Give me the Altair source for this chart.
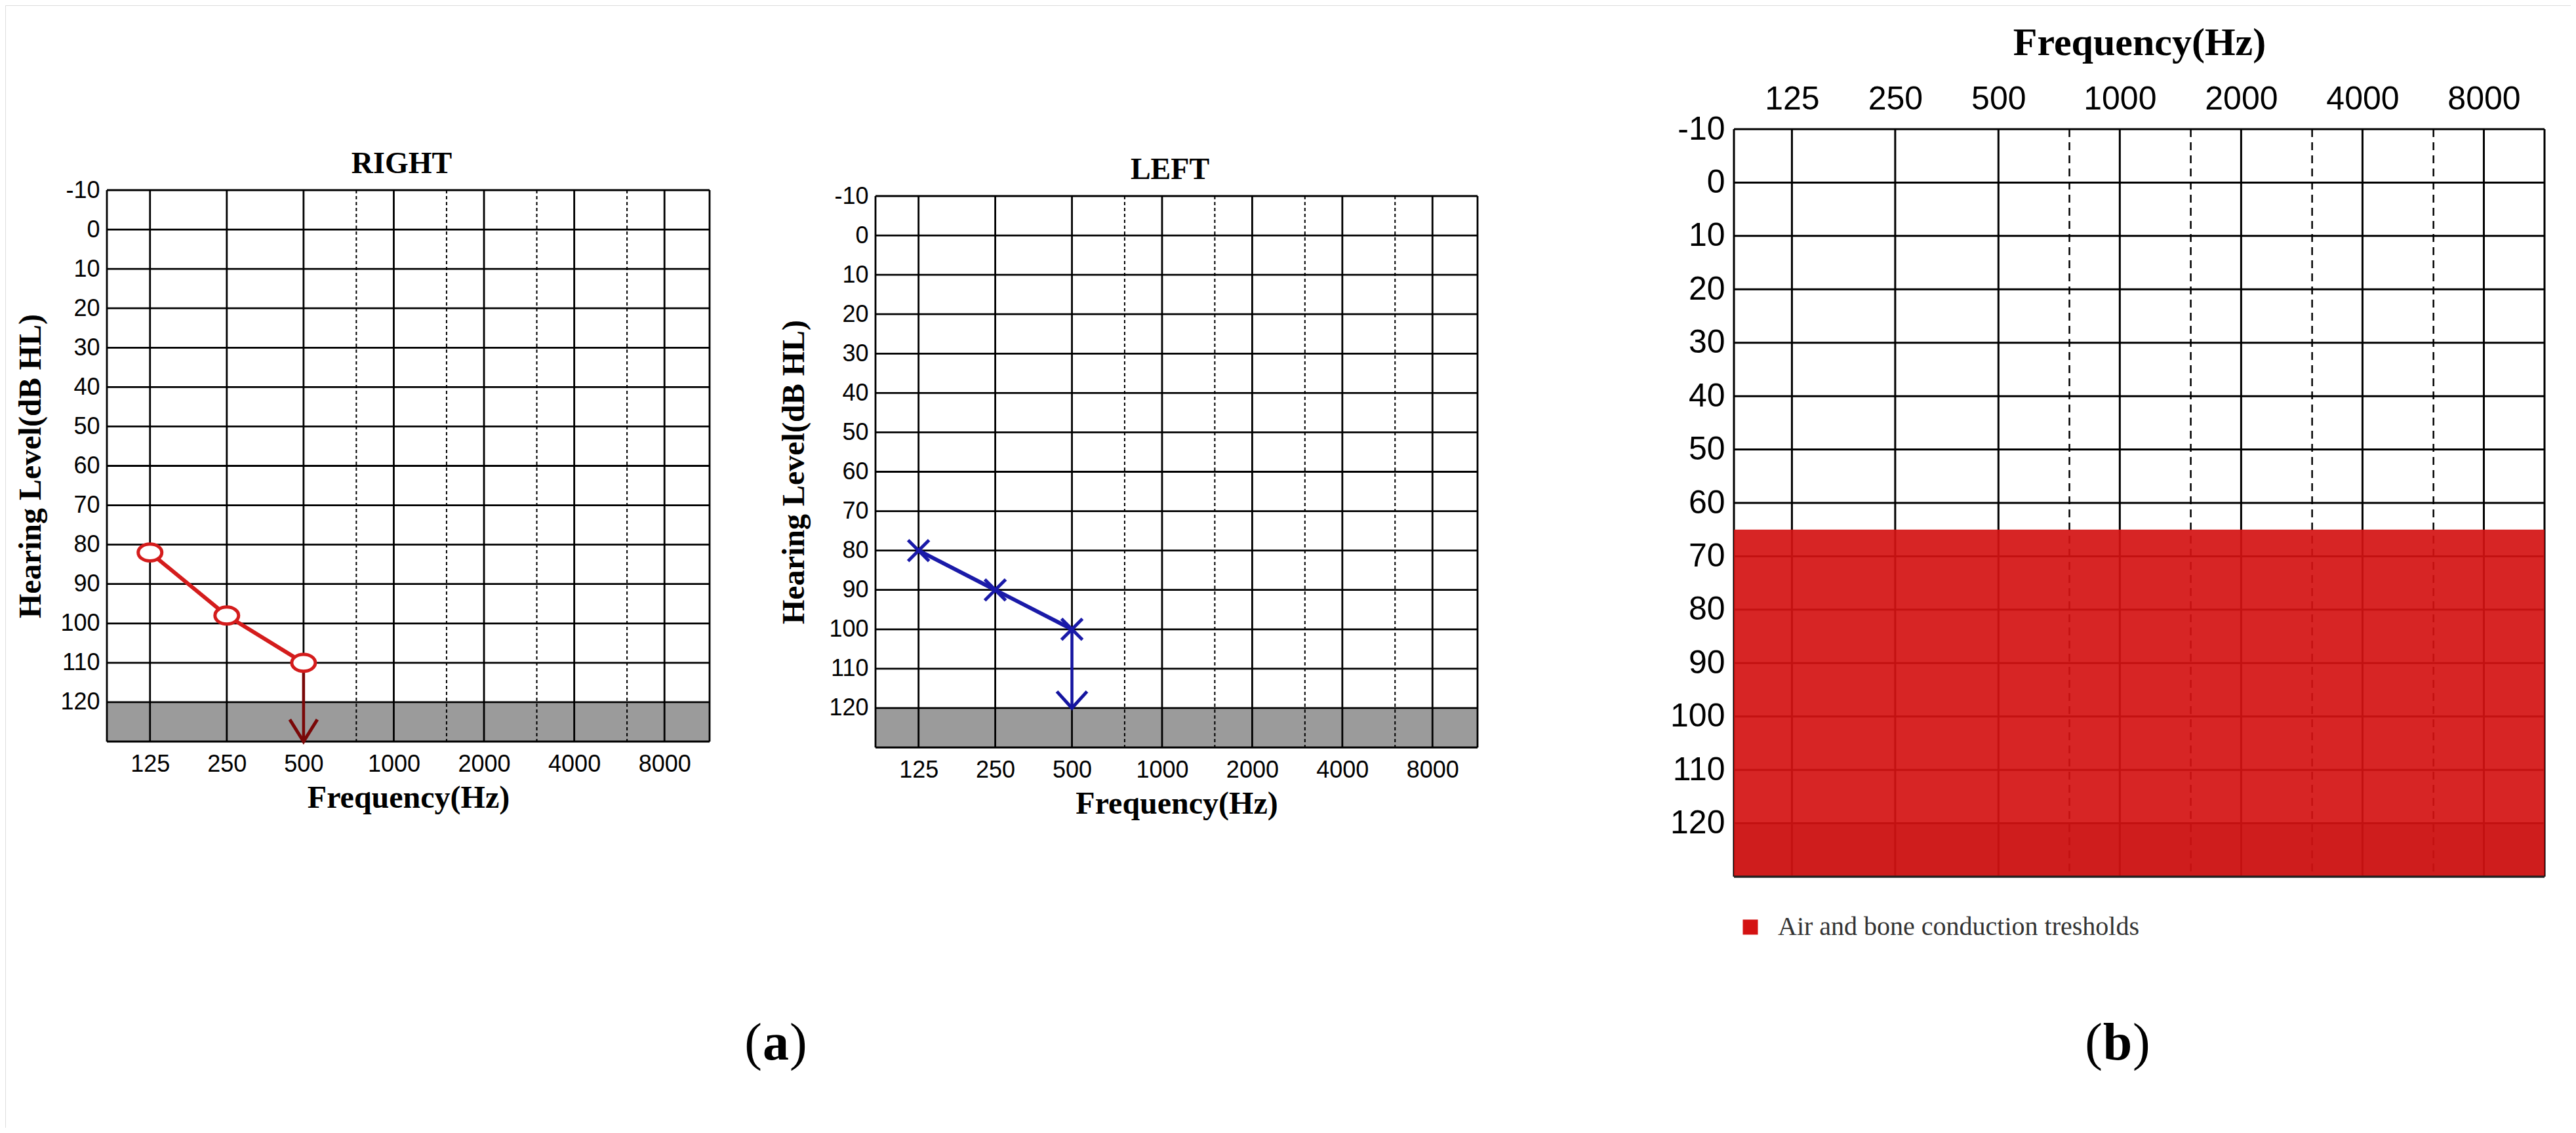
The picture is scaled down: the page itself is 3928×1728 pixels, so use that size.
import altair as alt
import pandas as pd

# ---------------- data ----------------
FREQ_MAIN = [125, 250, 500, 1000, 2000, 4000, 8000]
FREQ_MID = [750, 1500, 3000, 6000]
DB_GRID = [-10, 0, 10, 20, 30, 40, 50, 60, 70, 80, 90, 100, 110, 120, 130]
DB_TICKS = [-10, 0, 10, 20, 30, 40, 50, 60, 70, 80, 90, 100, 110, 120]
X_EDGES = [84.7, 11314]   # frequencies at the left / right frame of the audiogram
X_BREAK = 500             # octave spacing changes here (narrower low octaves)

RIGHT_FREQ = [125, 250, 500]
RIGHT_DB = [82, 98, 110]
RIGHT_NR_FREQ = [500]
RIGHT_NR_FROM = [110]
RIGHT_NR_TO = [130]

LEFT_FREQ = [125, 250, 500]
LEFT_DB = [80, 90, 100]
LEFT_NR_FREQ = [500]
LEFT_NR_FROM = [100]
LEFT_NR_TO = [120]

BAND_DB = [120, 130]
B_LABELS = ["Air and bone conduction tresholds"]
B_FROM = [65]
B_TO = [130]

PANEL_TITLES = ["RIGHT", "LEFT"]
CAPTIONS = ["(a)", "(b)"]

# ---------------- layout / style ----------------
VW, VH = 3912, 1712
SPLIT = 0.3263
GEOM = {
    "R": dict(L=155, W=919, T=282, B=1123),
    "L": dict(L=1327, W=918, T=291, B=1132),
    "B": dict(L=2636, W=1236, T=189, B=1329),
}
SANS = "Liberation Sans, Arial, sans-serif"
SERIF = "Liberation Serif, Times New Roman, serif"
GRAY = "#9b9b9b"
ELLIPSE = "M -1 0 A 1 0.72 0 1 1 1 0 A 1 0.72 0 1 1 -1 0 Z"
XMARK = "M -1 -1 L 1 1 M -1 1 L 1 -1"
CHEV_R = "M -1 -1.6 L 0 0 L 1 -1.6"
CHEV_L = "M -1 -1.1 L 0 0 L 1 -1.1"


def scales(g):
    xs = alt.Scale(type="log", domain=[X_EDGES[0], X_BREAK, X_EDGES[1]],
                   range=[g["L"], g["L"] + SPLIT * g["W"], g["L"] + g["W"]], nice=False)
    ys = alt.Scale(type="linear", domain=[DB_GRID[0], DB_GRID[-1]],
                   range=[g["T"], g["B"]], nice=False, zero=False)
    return xs, ys


def grid(xs, ys, xa, ya, lw, dash, dlw):
    XL = alt.XDatum(X_EDGES[0], type="quantitative", scale=xs, axis=xa)
    X2R = alt.X2Datum(X_EDGES[1])
    YT = alt.YDatum(DB_GRID[0], type="quantitative", scale=ys, axis=ya)
    Y2B = alt.Y2Datum(DB_GRID[-1])
    band = alt.Chart(pd.DataFrame({"d0": [BAND_DB[0]], "d1": [BAND_DB[1]]})).mark_rect(
        color=GRAY, opacity=1).encode(
        x=XL, x2=X2R, y=alt.Y("d0:Q", scale=ys, axis=ya), y2=alt.Y2("d1"))
    hgrid = alt.Chart(pd.DataFrame({"d": DB_GRID})).mark_rule(color="black", strokeWidth=lw).encode(
        x=XL, x2=X2R, y=alt.Y("d:Q", scale=ys, axis=ya))
    vgrid = alt.Chart(pd.DataFrame({"f": FREQ_MAIN + X_EDGES})).mark_rule(
        color="black", strokeWidth=lw).encode(
        x=alt.X("f:Q", scale=xs, axis=xa), y=YT, y2=Y2B)
    vdot = alt.Chart(pd.DataFrame({"f": FREQ_MID})).mark_rule(
        color="black", strokeWidth=dlw, strokeDash=dash).encode(
        x=alt.X("f:Q", scale=xs, axis=xa), y=YT, y2=Y2B)
    return band, hgrid, vgrid, vdot, XL, X2R


def panel_a(key, title, color, nr_color, freqs, dbs, nr_f, nr_from, nr_to,
            shape, size, fill, chev, chev_size, ytp):
    g = GEOM[key]
    xs, ys = scales(g)
    xa = alt.Axis(orient="bottom", offset=g["B"] - VH, values=FREQ_MAIN,
                  labelExpr="format(datum.value, 'd')", labelFont=SANS, labelFontSize=36,
                  labelColor="black", labelPadding=17, labelOverlap=False, labelFlush=False,
                  ticks=False, domain=False, grid=False,
                  title="Frequency(Hz)", titleFont=SERIF, titleFontSize=48,
                  titleFontWeight="bold", titleColor="black", titlePadding=10)
    ya = alt.Axis(orient="left", offset=-g["L"], values=DB_TICKS,
                  labelExpr="'' + datum.value", labelFont=SANS, labelFontSize=36,
                  labelColor="black", labelPadding=11, labelOverlap=False, labelFlush=False,
                  ticks=False, domain=False, grid=False,
                  title="Hearing Level(dB HL)", titleFont=SERIF, titleFontSize=48,
                  titleFontWeight="bold", titleColor="black", titlePadding=ytp)
    band, hgrid, vgrid, vdot, XL, X2R = grid(xs, ys, xa, ya, 2.8, [5, 4], 2.0)
    X = alt.X("f:Q", scale=xs, axis=xa)
    df = pd.DataFrame({"f": freqs, "d": dbs})
    nr = pd.DataFrame({"f": nr_f, "d0": nr_from, "d1": nr_to})
    shaft = alt.Chart(nr).mark_rule(color=nr_color, strokeWidth=4.5).encode(
        x=X, y=alt.Y("d0:Q", scale=ys, axis=ya), y2=alt.Y2("d1"))
    line = alt.Chart(df).mark_line(color=color, strokeWidth=6).encode(
        x=X, y=alt.Y("d:Q", scale=ys, axis=ya), order="f:Q")
    pkw = dict(shape=shape, size=size, stroke=color, strokeWidth=5, opacity=1, filled=False)
    if fill:
        pkw["fill"] = fill
    pts = alt.Chart(df).mark_point(**pkw).encode(x=X, y=alt.Y("d:Q", scale=ys, axis=ya))
    head = alt.Chart(nr).mark_point(shape=chev, size=chev_size, filled=False, stroke=nr_color,
                                    strokeWidth=5, opacity=1).encode(
        x=X, y=alt.Y("d1:Q", scale=ys, axis=ya))
    ttl = alt.Chart(pd.DataFrame({"t": [title]})).mark_text(
        font=SERIF, fontSize=46, fontWeight="bold", color="black",
        baseline="alphabetic", align="center").encode(
        x=alt.value(g["L"] + g["W"] / 2 - 10), y=alt.value(g["T"] - 26), text="t:N")
    return alt.layer(band, hgrid, vgrid, vdot, shaft, line, pts, head, ttl)


right = panel_a("R", PANEL_TITLES[0], "#d41c1c", "#7a0808", RIGHT_FREQ, RIGHT_DB,
                RIGHT_NR_FREQ, RIGHT_NR_FROM, RIGHT_NR_TO, ELLIPSE, 1296, "white",
                CHEV_R, 1764, 20)
left = panel_a("L", PANEL_TITLES[1], "#1a1aa8", "#1414a0", LEFT_FREQ, LEFT_DB,
               LEFT_NR_FREQ, LEFT_NR_FROM, LEFT_NR_TO, XMARK, 1024, None,
               CHEV_L, 2116, 28)

# ---- panel (b)
gb = GEOM["B"]
xsb, ysb = scales(gb)
xab = alt.Axis(orient="top", offset=-gb["T"], values=FREQ_MAIN,
               labelExpr="format(datum.value, 'd')", labelFont=SANS, labelFontSize=50,
               labelColor="black", labelPadding=21, labelOverlap=False, labelFlush=False,
               ticks=False, domain=False, grid=False,
               title="Frequency(Hz)", titleFont=SERIF, titleFontSize=60,
               titleFontWeight="bold", titleColor="black", titlePadding=30)
yab = alt.Axis(orient="left", offset=-gb["L"], values=DB_TICKS,
               labelExpr="'' + datum.value", labelFont=SANS, labelFontSize=50,
               labelColor="black", labelPadding=14, labelOverlap=False, labelFlush=False,
               ticks=False, domain=False, grid=False, title="")
band_b, hgrid_b, vgrid_b, vdot_b, XLb, X2Rb = grid(xsb, ysb, xab, yab, 3.0, [12, 8], 2.5)
red = alt.Chart(pd.DataFrame({"label": B_LABELS, "d0": B_FROM, "d1": B_TO})).mark_rect(
    opacity=0.92).encode(
    x=XLb, x2=X2Rb, y=alt.Y("d0:Q", scale=ysb, axis=yab), y2=alt.Y2("d1"),
    color=alt.Color("label:N", scale=alt.Scale(domain=B_LABELS, range=["#d41212"]),
                    legend=alt.Legend(orient="none", legendX=2641, legendY=1386, title="",
                                      symbolType="square", symbolSize=529, symbolOpacity=1,
                                      symbolStrokeWidth=0, labelFont=SERIF, labelFontSize=40,
                                      labelColor="#333333", labelOffset=22, labelLimit=0,
                                      padding=0)))
bottom_b = alt.Chart(pd.DataFrame({"d": [DB_GRID[-1]]})).mark_rule(
    color="#222222", strokeWidth=3).encode(
    x=XLb, x2=X2Rb, y=alt.Y("d:Q", scale=ysb, axis=yab))
panel_b = alt.layer(band_b, hgrid_b, vgrid_b, vdot_b, red, bottom_b)


# ---- captions: parentheses in regular weight, letter in bold (three separate texts)
def caption(text, xpos, half):
    parts = [(text[0], "normal", "right", xpos - half),
             (text[1:-1], "bold", "center", xpos),
             (text[-1], "normal", "left", xpos + half)]
    out = []
    for s, w, a, x in parts:
        out.append(alt.Chart(pd.DataFrame({"c": [s]})).mark_text(
            font=SERIF, fontSize=80, fontWeight=w, color="black",
            baseline="alphabetic", align=a).encode(
            x=alt.value(x), y=alt.value(1608), text="c:N"))
    return out


caps = caption(CAPTIONS[0], 1175, 21) + caption(CAPTIONS[1], 3221, 23)

chart = alt.layer(right, left, panel_b, *caps).resolve_scale(
    x="independent", y="independent").resolve_axis(
    x="independent", y="independent").properties(
    width=VW, height=VH, autosize=alt.AutoSizeParams(type="none"), padding=0
).configure_view(strokeWidth=0).configure(background="white")

chart.save("out.html", embed_options={"renderer": "svg", "actions": False})
